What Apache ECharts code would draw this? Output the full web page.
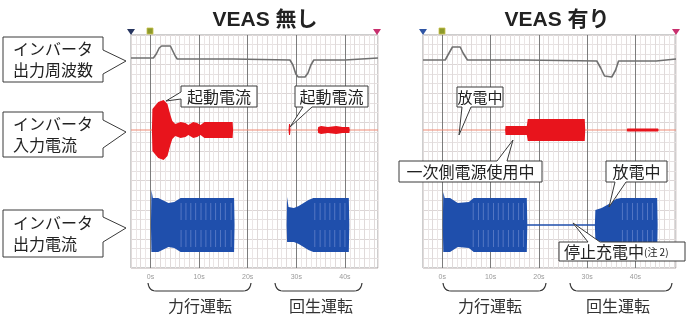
<!DOCTYPE html>
<html><head><meta charset="utf-8">
<script src="https://cdn.jsdelivr.net/npm/echarts@6/dist/echarts.min.js"></script>
<style>html,body{margin:0;padding:0;background:#fff}#c{width:686px;height:316px}</style>
</head><body><div id="c"></div><script>
// ---------- data (time in seconds) ----------
const tickLabels = [0, 10, 20, 30, 40];           // shown as "0s" … "40s"
const panelTitles = ['VEAS 無し', 'VEAS 有り'];
const sideLabels = ['インバータ\n出力周波数', 'インバータ\n入力電流', 'インバータ\n出力電流'];
const modeLabels = ['力行運転', '回生運転'];

// inverter output frequency (relative scale) : [t, value]
const freqNo  = [[-4,32],[0.6,32],[1.2,36],[1.8,42],[2.3,44],[4.1,44],[4.5,42],[5.1,34],[5.5,31],[17,31],[17.4,30],[28.7,30],[29.3,25],[29.9,16],[30.4,13],[31.8,13],[32.4,17],[33,25],[33.6,30],[40,30],[40.4,32],[46.8,32]];
const freqYes = [[-4,30],[0.6,30],[1.4,37],[2.1,43],[3.7,43],[4.3,37],[5.2,30],[17.1,30],[17.5,29],[32,29],[32.8,22],[33.6,14],[35.1,13],[35.9,20],[36.5,29],[44.3,29],[44.7,31],[48.4,31]];

// inverter input current envelope : [t, low, high]
const inputNo = [[0.3,0,0],[0.4,-21,21],[1.6,-28,28],[2.7,-30,30],[3.5,-26,26],[4.1,-15,15],[4.5,-9,9],[5.1,-6,6],[6.2,-8,8],[7.2,-7,7],[7.8,-5,5],[8.8,-8,8],[9.6,-7,7],[10.3,-5,5],[11.1,-8,8],[16.9,-8,8],[17.0,0,0],
  [28.4,0,0],[28.5,-5,6],[28.7,-5,6],[28.8,0,0],
  [34.4,0,0],[34.5,-3,3],[35.1,-4,4],[36.5,-3,3],[38.2,-4,4],[39.5,-3,3],[40.9,-3,3],[41.0,0,0]];
const inputYes = [[13.0,0,0],[13.1,-5,4],[17.5,-5,4],[17.7,-11,11],[29.5,-11,11],[29.6,0,0],
  [38.2,0,0],[38.3,-1.5,1.5],[44.7,-1.5,1.5],[44.8,0,0]];

// inverter output current envelope : [t, low, high]
const outputNo = [[0.1,0,0],[0.2,-27,35],[0.5,-27,27],[1.6,-27,27],[3.7,-22,22],[4.9,-23,23],[6.2,-27,27],[17.2,-27,27],[17.3,0,0],
  [28.0,0,0],[28.1,-17,28],[28.4,-17,18],[29.5,-17,17],[30.5,-19,19],[31.5,-22,22],[32.5,-25,25],[33.5,-27,27],[40.8,-27,27],[40.9,0,0]];
const outputYes = [[0.1,0,0],[0.2,-27,33],[0.5,-27,27],[1.6,-27,27],[3.2,-22,22],[5.5,-23,23],[6.5,-27,27],[17.5,-27,27],[17.6,-0.7,0.7],[31.6,-0.7,0.7],[31.7,-15,15],[33,-17,17],[34.5,-21,21],[36,-26,26],[37,-27,27],[44.5,-27,27],[44.6,0,0]];

// light beat stripes seen inside the output-current bands (t in s)
const stripesNo  = [6.3,7.3,8.3,9.3,10.4,11.4,12.4,13.4,14.4,15.4,16.6, 33.8,34.9,35.9,36.9,37.9,39.0,40.0];
const stripesYes = [6.4,7.5,8.5,9.5,10.6,11.6,12.6,13.7,14.7,15.8,16.8, 37.3,38.3,39.4,40.4,41.5,42.5,43.5];

// ---------- layout ----------
const P = [{left:131, width:247, max:46.8}, {left:423, width:253, max:48.4}];
const TOP = 35, H = 233;
const sub = [{top:35,height:55,min:0,max:55},{top:95,height:70,min:-35,max:35},{top:180,height:90,min:-45,max:45}];
const RED = '#e8141c', BLUE = '#1f4fac', GRAY = '#707070';

const grid = [], xAxis = [], yAxis = [], series = [];
const vColors = [];
for (let i = 0; i < 10; i++) vColors.push(i === 4 ? '#7c7c7c' : (i % 2 ? '#ebe6e6' : '#e0dada'));
P.forEach((p, k) => {
  grid.push({left:p.left, width:p.width, top:TOP, height:H, show:true, backgroundColor:'#fff', borderColor:'#9c9c9c', borderWidth:1});
  xAxis.push({gridIndex:k, type:'value', min:-4, max:p.max, interval:1,
    axisLine:{show:false}, axisTick:{show:false},
    axisLabel:{fontSize:7, color:'#9a9a9a', margin:6, showMaxLabel:false, showMinLabel:false,
      formatter: v => tickLabels.includes(v) ? v + 's' : ''},
    splitLine:{show:true, lineStyle:{color:vColors, width:1}}});
  yAxis.push({gridIndex:k, type:'value', min:0, max:24, interval:1,
    axisLine:{show:false}, axisTick:{show:false}, axisLabel:{show:false},
    splitLine:{show:true, lineStyle:{color:['#dcd6d6','#e6e1e1','#e6e1e1'], width:1}}});
});
P.forEach((p, k) => {
  sub.forEach(s => {
    grid.push({left:p.left, width:p.width, top:s.top, height:s.height});
    const gi = grid.length - 1;
    xAxis.push({gridIndex:gi, type:'value', min:-4, max:p.max, show:false, splitLine:{show:false}});
    yAxis.push({gridIndex:gi, type:'value', min:s.min, max:s.max, show:false, splitLine:{show:false}});
  });
});
function idx(k, s) { return 2 + k * 3 + s; }

function envelope(name, ax, pts, color) {
  return {type:'custom', name, xAxisIndex:ax, yAxisIndex:ax, data:[[0,0]], clip:true, silent:true, z:3,
    renderItem(params, api) {
      const up = pts.map(q => api.coord([q[0], q[2]]));
      const dn = pts.slice().reverse().map(q => api.coord([q[0], q[1]]));
      return {type:'polygon', shape:{points:up.concat(dn)}, style:{fill:color, lineWidth:0}};
    }};
}
function stripes(name, ax, times) {
  return {type:'custom', name, xAxisIndex:ax, yAxisIndex:ax, data:times.map(t => [t]), clip:true, silent:true, z:4,
    encode:{x:0},
    renderItem(params, api) {
      const t = api.value(0);
      const a = api.coord([t, 22]), b = api.coord([t, 5]), c = api.coord([t, -5]), d = api.coord([t, -22]);
      const st = {stroke:'#5a7cc6', lineWidth:0.9};
      return {type:'group', children:[
        {type:'line', shape:{x1:a[0],y1:a[1],x2:b[0],y2:b[1]}, style:st},
        {type:'line', shape:{x1:c[0],y1:c[1],x2:d[0],y2:d[1]}, style:st}]};
    }};
}
const freqs = [freqNo, freqYes], inputs = [inputNo, inputYes], outputs = [outputNo, outputYes], stripeSets = [stripesNo, stripesYes];
P.forEach((p, k) => {
  series.push({type:'line', name:'freq'+k, xAxisIndex:idx(k,0), yAxisIndex:idx(k,0), data:freqs[k],
    showSymbol:false, lineStyle:{color:GRAY, width:1.6}, z:3});
  series.push({type:'line', name:'base'+k, xAxisIndex:idx(k,1), yAxisIndex:idx(k,1), data:[[-4,0],[p.max,0]],
    showSymbol:false, lineStyle:{color:'#f08a74', width:1}, z:2});
  series.push(envelope('in'+k, idx(k,1), inputs[k], RED));
  series.push(envelope('out'+k, idx(k,2), outputs[k], BLUE));
  series.push(stripes('stripe'+k, idx(k,2), stripeSets[k]));
});

// ---------- annotations ----------
function callout(x0, y0, x1, y1, side, a, b, tip, textObj) {
  let pts;
  const T = tip;
  if (side === 'right') pts = [[x0,y0],[x1,y0],[x1,a],T,[x1,b],[x1,y1],[x0,y1]];
  else if (side === 'left') pts = [[x0,y0],[x1,y0],[x1,y1],[x0,y1],[x0,b],T,[x0,a]];
  else if (side === 'top') pts = [[x0,y0],[a,y0],T,[b,y0],[x1,y0],[x1,y1],[x0,y1]];
  else pts = [[x0,y0],[x1,y0],[x1,y1],[b,y1],T,[a,y1],[x0,y1]];
  return [{type:'polygon', shape:{points:pts}, style:{fill:'#fff', stroke:'#3a3a3a', lineWidth:1}, z:20},
    Object.assign({type:'text', z:21}, textObj)];
}
const FONT = '"Noto Sans CJK JP", sans-serif';
const g = [];
// titles
g.push({type:'text', x:265, y:20, style:{text:panelTitles[0], font:'bold 21px "Liberation Sans", "Noto Sans CJK JP", sans-serif', fill:'#222', align:'center', verticalAlign:'middle'}});
g.push({type:'text', x:557, y:20, style:{text:panelTitles[1], font:'bold 21px "Liberation Sans", "Noto Sans CJK JP", sans-serif', fill:'#222', align:'center', verticalAlign:'middle'}});
// side labels
const sideBoxes = [[3,37,103,82,50,74,[126,61]],[3,112,103,157,120,148,[126,132]],[3,210,103,257,217,242,[126,228]]];
sideBoxes.forEach((b, i) => {
  g.push(...callout(b[0],b[1],b[2],b[3],'right',b[4],b[5],b[6],
    {x:b[0]+10, y:(b[1]+b[3])/2, style:{text:sideLabels[i], font:'16px '+FONT, fill:'#222', lineHeight:21, verticalAlign:'middle', align:'left'}}));
});
function boxText(x0,y0,x1,y1,text,size){
  return {x:(x0+x1)/2, y:(y0+y1)/2+0.5, style:{text, font:size+'px '+FONT, fill:'#222', align:'center', verticalAlign:'middle'}};
}
g.push(...callout(181,86,257,107,'left',92,99,[166,101], boxText(181,86,257,107,'起動電流',16)));
g.push(...callout(295,86,368,107,'bottom',303,312,[290,127], boxText(295,86,368,107,'起動電流',16)));
g.push(...callout(457,87,503,107,'bottom',462,471,[459,135], boxText(457,87,503,107,'放電中',15)));
g.push(...callout(399,161,542,182,'top',497,507,[513,140], boxText(399,161,542,182,'一次側電源使用中',16)));
g.push(...callout(606,161,667,182,'bottom',615,626,[609,207], boxText(606,161,667,182,'放電中',16)));
g.push(...callout(559,242,685,261,'top',588,600,[573,223],
  {x:564, y:252, style:{text:'{a|停止充電中}{b|(注 2)}', verticalAlign:'middle', align:'left',
    rich:{a:{font:'16px '+FONT, fill:'#222'}, b:{font:'10px '+FONT, fill:'#222'}}}}));
// braces + mode labels
function quad(p0, c, p1, n) {
  const out = [];
  for (let i = 0; i <= n; i++) { const t = i / n, u = 1 - t;
    out.push([u*u*p0[0] + 2*u*t*c[0] + t*t*p1[0], u*u*p0[1] + 2*u*t*c[1] + t*t*p1[1]]); }
  return out;
}
const braces = [[148,251,200,0],[275,362,321,1],[443,546,490,0],[570,672,618,1]];
braces.forEach(b => {
  const [x0,x1,cx,m] = b;
  const pts = quad([x0,283],[x0+1,291],[x0+8,291],6).concat(quad([x1-8,291],[x1-1,291],[x1,283],6));
  g.push({type:'polyline', shape:{points:pts}, style:{fill:null, stroke:'#333', lineWidth:1.2}});
  g.push({type:'text', x:cx, y:306, style:{text:modeLabels[m], font:'16px '+FONT, fill:'#333', align:'center', verticalAlign:'middle'}});
});
// cursor markers at top of each panel
const markers = [[131,'#26355f',150,377],[423,'#2f55a4',442,676]];
markers.forEach(m => {
  g.push({type:'polygon', shape:{points:[[m[0]-4,29],[m[0]+4,29],[m[0],35]]}, style:{fill:m[1]}, z:10});
  g.push({type:'rect', shape:{x:m[2]-3,y:28,width:6,height:6}, style:{fill:'#8d9a2c', stroke:'#c9c24a', lineWidth:0.8}, z:10});
  g.push({type:'polygon', shape:{points:[[m[3]-4,29],[m[3]+4,29],[m[3],35]]}, style:{fill:'#c8306e'}, z:10});
});

const chart = echarts.init(document.getElementById('c'), null, {renderer:'canvas'});
chart.setOption({animation:false, backgroundColor:'#fff', grid, xAxis, yAxis, series, graphic:g});
</script></body></html>
